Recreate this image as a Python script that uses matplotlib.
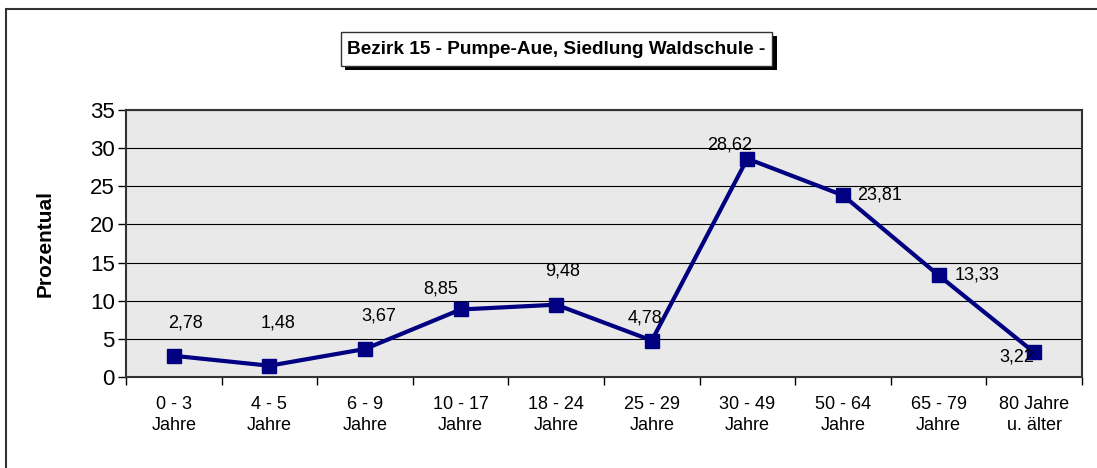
import numpy as np
import matplotlib.pyplot as plt
from matplotlib.patches import Rectangle

plt.rcParams['font.family'] = ['Liberation Sans', 'DejaVu Sans']

# Daten
kategorien = ["0 - 3\nJahre", "4 - 5\nJahre", "6 - 9\nJahre", "10 - 17\nJahre",
              "18 - 24\nJahre", "25 - 29\nJahre", "30 - 49\nJahre", "50 - 64\nJahre",
              "65 - 79\nJahre", "80 Jahre\nu. älter"]
werte = [2.78, 1.48, 3.67, 8.85, 9.48, 4.78, 28.62, 23.81, 13.33, 3.22]
beschriftung = ["2,78", "1,48", "3,67", "8,85", "9,48", "4,78", "28,62", "23,81", "13,33", "3,22"]
titel = "Bezirk 15 - Pumpe-Aue, Siedlung Waldschule -"

# Versatz der Beschriftungen in Pixel (dx, dy nach unten)
versatz = [(12, -33), (9, -43), (14, -33), (-20, -20), (6, -34),
           (-7, -23), (-18, -14), (37, 0), (38, 0), (-17, 5)]

W, H = 1097, 468
fig = plt.figure(figsize=(W / 100, H / 100), dpi=100)
ax = fig.add_axes([126 / W, 1 - 377 / H, (1082 - 126) / W, (377 - 110) / H])

# Rahmen um das Diagramm (nur oben/links sichtbar)
fig.patches.append(Rectangle((6 / W, -0.1), 1.2, 1 - 9 / H + 0.1, transform=fig.transFigure,
                             fill=False, edgecolor='#333333', linewidth=1.5))

x = np.arange(len(werte))
ax.set_facecolor('#e9e9e9')
ax.plot(x, werte, color='#000080', linewidth=3, marker='s', markersize=9.5, zorder=3)

# Datenbeschriftungen
for i, (v, t) in enumerate(zip(werte, beschriftung)):
    dx, dy = versatz[i]
    ax.annotate(t, (i, v), xytext=(dx * 0.72, -dy * 0.72), textcoords='offset points',
                ha='center', va='center', fontsize=13, zorder=4)

ax.set_xlim(-0.5, len(werte) - 0.5)
ax.set_ylim(0, 35)
ax.set_yticks(range(0, 36, 5))
ax.tick_params(axis='y', labelsize=16, length=6, width=1, pad=2)
ax.set_xticks(x)
ax.set_xticklabels(kategorien, fontsize=13, linespacing=1.3)
ax.tick_params(axis='x', which='major', length=0, pad=14)
ax.set_xticks(np.arange(-0.5, len(werte), 1), minor=True)
ax.tick_params(axis='x', which='minor', length=6, width=1)
ax.yaxis.grid(True, color='black', linewidth=0.8)
ax.set_axisbelow(True)
for s in ax.spines.values():
    s.set_color('#333333')
    s.set_linewidth(1.5)
ax.set_ylabel("Prozentual", fontsize=15, fontweight='bold')
ax.yaxis.set_label_coords(-(126 - 55) / (1082 - 126), 0.5)

# Titel mit Schattenbox
fig.patches.append(Rectangle((345 / W, 1 - 70 / H), 432 / W, 34 / H, transform=fig.transFigure,
                             facecolor='black', edgecolor='none', zorder=0))
fig.patches.append(Rectangle((341 / W, 1 - 66 / H), 431 / W, 34 / H, transform=fig.transFigure,
                             facecolor='white', edgecolor='#333333', linewidth=1, zorder=1))
fig.text(556.5 / W, 1 - 49 / H, titel, ha='center', va='center', fontsize=13.7, fontweight='bold', zorder=2)

fig.savefig('out.png', dpi=100)
